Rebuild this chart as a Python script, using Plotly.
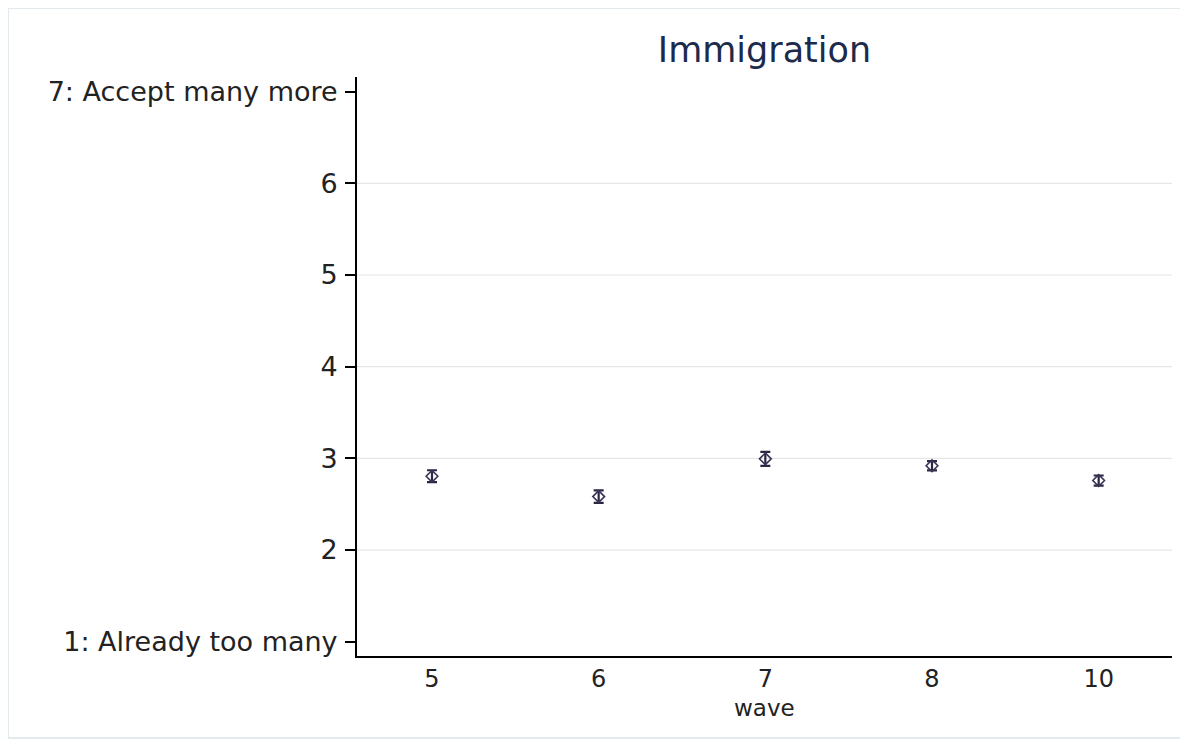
import plotly.graph_objects as go

# Data
waves = ["5", "6", "7", "8", "10"]
means = [2.805, 2.583, 2.995, 2.919, 2.758]
ci_half = [0.065, 0.068, 0.076, 0.051, 0.055]

ytick_vals = [1, 2, 3, 4, 5, 6, 7]
ytick_text = ["1: Already too many", "2", "3", "4", "5", "6", "7: Accept many more"]
grid_vals = [2, 3, 4, 5, 6]

FONT = "DejaVu Sans"
MARK = "#3b3458"

W, H = 1180, 731
L, R, T, B = 349, 16, 69, 83
PW, PH = W - L - R, H - T - B

fig = go.Figure()
fig.add_trace(go.Scatter(
    x=waves, y=means, mode="markers",
    marker=dict(symbol="diamond-open", size=9, color=MARK, line=dict(width=1.6, color=MARK)),
    error_y=dict(type="data", array=ci_half, visible=True, color="#2a2840", thickness=2.2, width=5),
    showlegend=False,
))

fig.update_layout(
    width=W, height=H,
    margin=dict(l=L, r=R, t=T, b=B),
    paper_bgcolor="white", plot_bgcolor="white",
    font=dict(family=FONT, color="#222222"),
    title=dict(text="Immigration", x=0.5, xref="paper", xanchor="center",
               y=1 - 42 / H, yref="container", yanchor="middle",
               font=dict(family=FONT, size=35, color="#1c2b4c")),
    xaxis=dict(type="category", range=[-0.45, 4.44], showgrid=False, zeroline=False,
               showline=True, linecolor="black", linewidth=2, ticks="",
               tickfont=dict(size=24, color="#222222"), ticklabelstandoff=0),
    yaxis=dict(range=[0.844, 7.16], tickvals=ytick_vals, ticktext=ytick_text,
               showgrid=False, zeroline=False, showline=True, linecolor="black", linewidth=2,
               ticks="outside", ticklen=10, tickwidth=1.5, tickcolor="black",
               tickfont=dict(size=27, color="#222222"), ticklabelstandoff=2),
)

for g in grid_vals:
    fig.add_hline(y=g, line=dict(color="#e6e6e6", width=1.2), layer="below")

fig.add_shape(type="rect", xref="paper", yref="paper", x0=-L / PW, x1=1 + (R - 1) / PW,
              y0=-(B - 1) / PH, y1=1 + T / PH, line=dict(color="#e3eaee", width=2),
              fillcolor="rgba(0,0,0,0)", layer="below")

fig.add_annotation(text="wave", xref="paper", yref="paper", x=0.5, y=-52 / PH,
                   xanchor="center", yanchor="middle", showarrow=False,
                   font=dict(family=FONT, size=23, color="#222222"))

fig.write_html("out.html")
